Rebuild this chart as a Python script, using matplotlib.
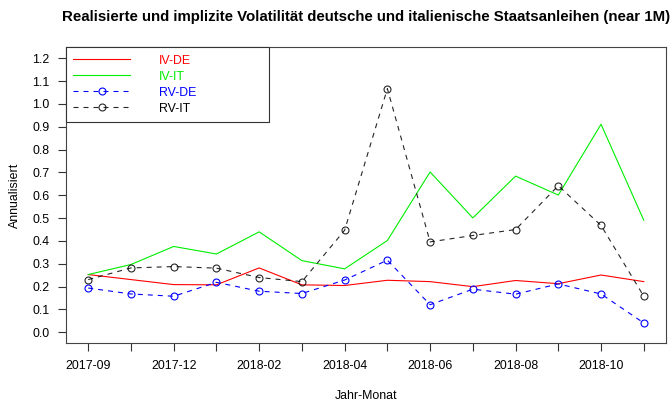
import numpy as np
import matplotlib
matplotlib.use("Agg")
import matplotlib.pyplot as plt

plt.rcParams['font.family'] = ['Liberation Sans', 'DejaVu Sans']

# Monate (Index-Achse), nur jede zweite Beschriftung sichtbar
monate = ["2017-09", "2017-11", "2017-12", "2018-01", "2018-02", "2018-03",
          "2018-04", "2018-05", "2018-06", "2018-07", "2018-08", "2018-09",
          "2018-10", "2018-11"]

iv_de = [0.253, 0.231, 0.209, 0.208, 0.282, 0.208, 0.205, 0.228, 0.222,
         0.200, 0.227, 0.213, 0.251, 0.222]
iv_it = [0.253, 0.297, 0.376, 0.343, 0.440, 0.314, 0.278, 0.402, 0.702,
         0.501, 0.684, 0.601, 0.911, 0.491]
rv_de = [0.194, 0.168, 0.158, 0.219, 0.180, 0.170, 0.229, 0.316, 0.121,
         0.189, 0.167, 0.212, 0.168, 0.041]
rv_it = [0.231, 0.282, 0.288, 0.281, 0.240, 0.222, 0.447, 1.067, 0.396,
         0.424, 0.450, 0.642, 0.468, 0.158]

yticks = np.arange(0, 13) / 10

x = np.arange(len(monate))
fs = 8.9

fig = plt.figure(figsize=(6.71, 4.05), dpi=100)
ax = fig.add_axes([66/671, 1-343.3/405, 600/671, 296/405])

lw = 0.8
dash = (0, (4.5, 4.5))
ax.plot(x, iv_de, color="#ff0000", lw=lw, label="IV-DE")
ax.plot(x, iv_it, color="#00ee00", lw=lw, label="IV-IT")
ax.plot(x, rv_de, color="#0000ff", lw=lw, ls=dash, marker="o", ms=5,
        mfc="none", mew=0.8, label="RV-DE")
ax.plot(x, rv_it, color="#000000", lw=lw, ls=dash, marker="o", ms=5,
        mfc="none", mew=0.8, alpha=0.85, label="RV-IT")

ax.set_xlim(-0.52, len(monate) - 1 + 0.52)
ax.set_ylim(-0.048, 1.248)
ax.set_yticks(yticks)
ax.set_yticklabels([f"{v:.1f}" for v in yticks])
ax.set_xticks(x)
ax.set_xticklabels([m if i % 2 == 0 else "" for i, m in enumerate(monate)])
ax.tick_params(axis="both", direction="out", length=5.5, width=0.8,
               color="#333333", labelsize=fs, pad=6.3)
ax.tick_params(axis="x", pad=6.5)
for s in ax.spines.values():
    s.set_linewidth(0.8)
    s.set_color("#444444")

ax.set_xlabel("Jahr-Monat", fontsize=fs, va="center")
ax.xaxis.set_label_coords(0.5, (343.3-396)/296)
ax.set_ylabel("Annualisiert", fontsize=fs, va="center")
ax.yaxis.set_label_coords((15-66)/600, 0.5)

fig.text(366/671, 1-16.7/405, "Realisierte und implizite Volatilität deutsche "
         "und italienische Staatsanleihen (near 1M)", fontsize=10.8,
         fontweight="bold", ha="center", va="center")

leg = ax.legend(loc="upper left", bbox_to_anchor=(0, 0, 203/600, 1),
                mode="expand", borderaxespad=0, fancybox=False,
                edgecolor="#333333", framealpha=1, fontsize=fs,
                handlelength=4.6, handletextpad=2.3, labelspacing=0.32,
                borderpad=0.6, numpoints=1, labelcolor="linecolor")
leg.get_frame().set_linewidth(0.8)

fig.savefig("out.png", dpi=100)
